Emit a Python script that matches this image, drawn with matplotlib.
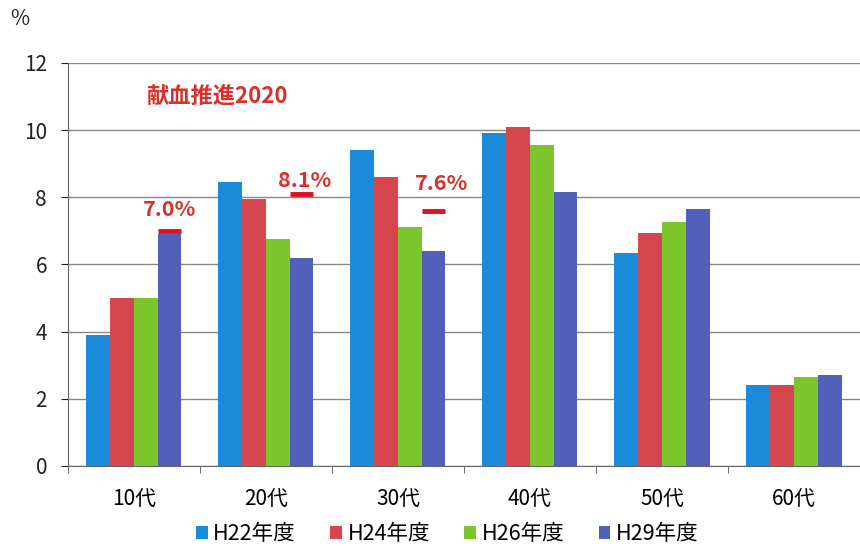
import numpy as np
import matplotlib.pyplot as plt

plt.rcParams['font.family'] = ['Noto Sans CJK JP', 'DejaVu Sans']

# data
ages = ["10代", "20代", "30代", "40代", "50代", "60代"]
years = ["H22年度", "H24年度", "H26年度", "H29年度"]
h22 = [3.9, 8.45, 9.4, 9.9, 6.35, 2.4]
h24 = [5.0, 7.95, 8.6, 10.1, 6.95, 2.4]
h26 = [5.0, 6.75, 7.1, 9.55, 7.25, 2.65]
h29 = [6.9, 6.2, 6.4, 8.15, 7.65, 2.7]
targets = [7.0, 8.1, 7.6]  # 献血推進2020 targets for 10代-30代
target_labels = ["7.0%", "8.1%", "7.6%"]

colors = ["#1b8bd9", "#d5464f", "#7dc52c", "#5160b8"]

fig = plt.figure(figsize=(8.6, 5.52), dpi=100)
ax = fig.add_axes([0.079, 0.156, 0.921, 0.73])

x = np.arange(len(ages))
w = 0.18
for i, (vals, c, lab) in enumerate(zip([h22, h24, h26, h29], colors, years)):
    ax.bar(x + (i - 1.5) * w, vals, width=w, color=c, label=lab, zorder=3)

# target markers above the H29 bars
tx = x[:len(targets)] + 1.5 * w
ax.hlines(targets, tx - w / 2, tx + w / 2, colors="#e0101e", linewidth=3.5, zorder=4)
dy = [0.65, 0.4, 0.8]
dx = [0.0, 0.02, 0.06]
for xi, t, s, a, b in zip(tx, targets, target_labels, dy, dx):
    ax.text(xi + b, t + a, s, color="#d9302c", fontsize=15.5, ha="center", va="center",
            fontweight="bold")

ax.text(0.1, 11.0, "献血推進2020", color="#d9302c", fontsize=16, ha="left", va="center",
        fontweight="bold")

ax.set_xlim(-0.5, 5.5)
ax.set_ylim(0, 12)
ax.set_yticks(range(0, 13, 2))
ax.tick_params(axis="y", length=5, labelsize=15, colors="#222222", pad=10)
ax.set_xticks(x)
ax.set_xticklabels(ages)
ax.tick_params(axis="x", length=0, labelsize=15, pad=16)
ax.set_xticks(np.arange(-0.5, 6, 1), minor=True)
ax.tick_params(axis="x", which="minor", length=5, color="#555555")
ax.yaxis.grid(True, color="#888888", linewidth=1.0, zorder=0)
ax.set_axisbelow(True)
for s in ["top", "right"]:
    ax.spines[s].set_visible(False)
ax.spines["left"].set_color("#666666")
ax.spines["bottom"].set_color("#666666")

fig.text(0.012, 0.965, "%", fontsize=15, ha="left", va="center", color="#222222")

fig.legend(loc="lower center", bbox_to_anchor=(0.52, -0.022), ncol=4, frameon=False,
           fontsize=15.5, handlelength=0.55, handleheight=0.55, handletextpad=0.25,
           columnspacing=1.6)

fig.savefig("out.png", dpi=100)
